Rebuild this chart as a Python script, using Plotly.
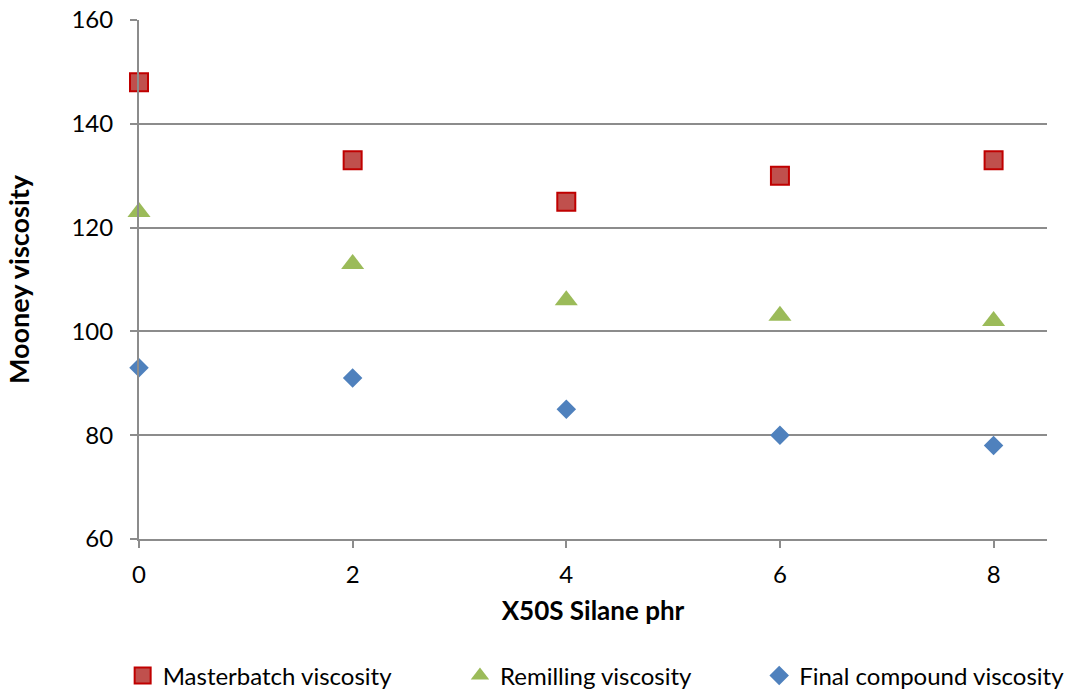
import plotly.graph_objects as go

silane_phr = [0, 2, 4, 6, 8]
masterbatch = [148, 133, 125, 130, 133]
remilling = [123, 113, 106, 103, 102]
final_compound = [93, 91, 85, 80, 78]

FONT = "Lato, 'Open Sans', sans-serif"
GRID = "#8c8c8c"
FS = 24

fig = go.Figure()
fig.add_trace(go.Scatter(
    x=silane_phr, y=masterbatch, mode="markers", name="Masterbatch viscosity",
    legend="legend", cliponaxis=False,
    marker=dict(symbol="square", size=18, color="#C0504D",
                line=dict(color="#C00000", width=2)),
))
fig.add_trace(go.Scatter(
    x=silane_phr, y=remilling, mode="markers", name="Remilling viscosity",
    legend="legend2", cliponaxis=False,
    marker=dict(symbol="triangle-up", size=20, color="#9BBB59",
                line=dict(width=0)),
))
fig.add_trace(go.Scatter(
    x=silane_phr, y=final_compound, mode="markers", name="Final compound viscosity",
    legend="legend3", cliponaxis=False,
    marker=dict(symbol="diamond", size=15, color="#4F81BD",
                line=dict(width=0)),
))

legend_common = dict(orientation="h", yanchor="middle", y=-0.264, xanchor="left",
                     font=dict(size=FS), itemsizing="trace", bgcolor="rgba(0,0,0,0)")

fig.update_layout(
    width=1073, height=691,
    margin=dict(l=139, r=26, t=20, b=152, autoexpand=False),
    paper_bgcolor="white", plot_bgcolor="white",
    font=dict(family=FONT, size=FS, color="black"),
    showlegend=True,
    legend=dict(x=-0.018, **legend_common),
    legend2=dict(x=0.3535, **legend_common),
    legend3=dict(x=0.683, **legend_common),
    xaxis=dict(
        range=[0, 8.5], tickvals=[0, 2, 4, 6, 8], showgrid=False, zeroline=False,
        showline=True, linecolor=GRID, linewidth=2,
        ticks="outside", ticklen=7, tickcolor=GRID, tickwidth=2,
        tickfont=dict(size=FS), ticklabelstandoff=6,
        title=dict(text="<b>X50S Silane phr</b>", font=dict(size=26), standoff=15),
    ),
    yaxis=dict(
        range=[60, 160], tickvals=[60, 80, 100, 120, 140, 160], showgrid=True,
        gridcolor=GRID, gridwidth=2, zeroline=False,
        showline=True, linecolor=GRID, linewidth=2,
        ticks="outside", ticklen=7, tickcolor=GRID, tickwidth=2,
        tickfont=dict(size=FS), ticklabelstandoff=12,
        title=dict(text="<b>Mooney viscosity</b>", font=dict(size=27), standoff=34),
    ),
)

fig.write_html("out.html")
